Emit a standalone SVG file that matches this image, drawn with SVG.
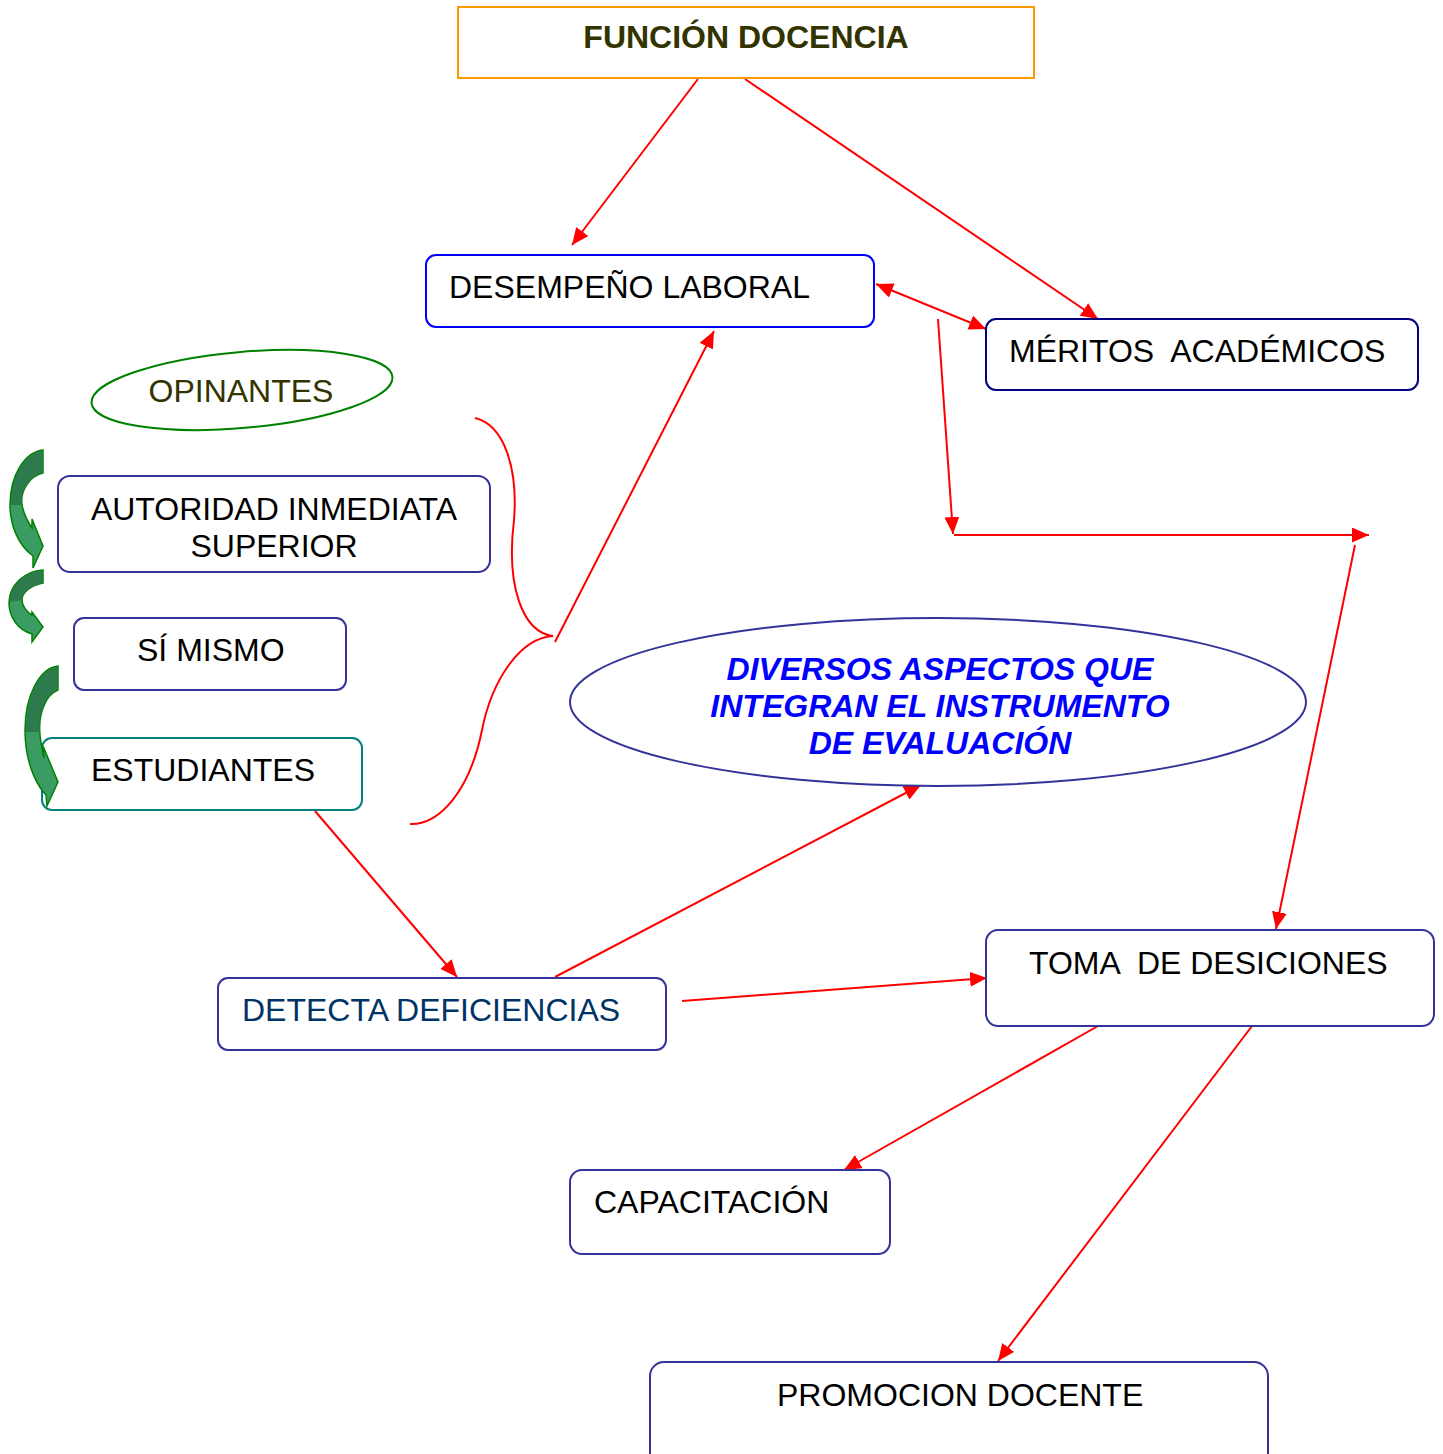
<svg xmlns="http://www.w3.org/2000/svg" width="1443" height="1454" viewBox="0 0 1443 1454">
<style>
  text{font-family:"Liberation Sans",Arial,sans-serif;font-size:32px;fill:#000}
  .box{fill:#fff;stroke:#333399;stroke-width:2}
  .c{fill:none;stroke:#ff0000;stroke-width:2}
  .ga{fill:#3a9c62;stroke:#008000;stroke-width:1.5}
  .gd{fill:#2d7a4c;stroke:none}
</style>
<defs>
  <marker id="ah" markerUnits="userSpaceOnUse" markerWidth="19" markerHeight="15" refX="17" refY="7.5" orient="auto">
    <path d="M0,0 L17,7.5 L0,15 Z" fill="#ff0000"/>
  </marker>
  <marker id="as" markerUnits="userSpaceOnUse" markerWidth="19" markerHeight="15" refX="0" refY="7.5" orient="auto">
    <path d="M17,0 L0,7.5 L17,15 Z" fill="#ff0000"/>
  </marker>
</defs>
<rect width="1443" height="1454" fill="#fff"/>

<g id="connectors">
  <line class="c" x1="698" y1="79" x2="572" y2="245" marker-end="url(#ah)"/>
  <line class="c" x1="745" y1="79" x2="1098" y2="319" marker-end="url(#ah)"/>
  <line class="c" x1="876" y1="284" x2="986" y2="329" marker-start="url(#as)" marker-end="url(#ah)"/>
  <line class="c" x1="938" y1="319" x2="953" y2="534" marker-end="url(#ah)"/>
  <line class="c" x1="954" y1="535" x2="1369" y2="535" marker-end="url(#ah)"/>
  <line class="c" x1="1355" y1="545" x2="1276" y2="929" marker-end="url(#ah)"/>
  <line class="c" x1="555" y1="642" x2="714" y2="331" marker-end="url(#ah)"/>
  <path class="c" d="M475,418 C505,425 518,470 514,520 C506,585 522,632 553,636 C520,638 492,680 482,730 C470,790 440,825 410,824"/>
  <line class="c" x1="315" y1="811" x2="457" y2="977" marker-end="url(#ah)"/>
  <line class="c" x1="555" y1="977" x2="921" y2="785" marker-end="url(#ah)"/>
  <line class="c" x1="682" y1="1001" x2="987" y2="978" marker-end="url(#ah)"/>
  <line class="c" x1="1098" y1="1026" x2="844" y2="1170" marker-end="url(#ah)"/>
  <line class="c" x1="1252" y1="1026" x2="998" y2="1361" marker-end="url(#ah)"/>
</g>

<g id="n-funcion">
  <rect x="458" y="7" width="576" height="71" fill="#fff" stroke="#ff9900" stroke-width="2"/>
  <text x="746" y="48" text-anchor="middle" font-weight="bold" style="fill:#333300">FUNCIÓN DOCENCIA</text>
</g>
<g id="n-desempeno">
  <rect x="426" y="255" width="448" height="72" rx="10" fill="#fff" stroke="#0000ff" stroke-width="2"/>
  <text x="449" y="298">DESEMPEÑO LABORAL</text>
</g>
<g id="n-meritos">
  <rect x="986" y="319" width="432" height="71" rx="10" fill="#fff" stroke="#000080" stroke-width="2"/>
  <text x="1009" y="362" xml:space="preserve">MÉRITOS  ACADÉMICOS</text>
</g>
<g id="n-opinantes">
  <ellipse cx="242" cy="390" rx="151" ry="38" transform="rotate(-5 242 390)" fill="#fff" stroke="#008000" stroke-width="2"/>
  <text x="241" y="402" text-anchor="middle" style="fill:#333300">OPINANTES</text>
</g>
<g id="n-autoridad">
  <rect class="box" x="58" y="476" width="432" height="96" rx="12"/>
  <text x="274" y="520" text-anchor="middle">AUTORIDAD INMEDIATA</text>
  <text x="274" y="557" text-anchor="middle">SUPERIOR</text>
</g>
<g id="n-simismo">
  <rect class="box" x="74" y="618" width="272" height="72" rx="10"/>
  <text x="137" y="661">SÍ MISMO</text>
</g>
<g id="n-estudiantes">
  <rect x="42" y="738" width="320" height="72" rx="10" fill="none" stroke="#008080" stroke-width="2"/>
  <text x="91" y="781">ESTUDIANTES</text>
</g>
<g id="n-diversos">
  <ellipse cx="938" cy="702" rx="368" ry="84" fill="#fff" stroke="#333399" stroke-width="2"/>
  <g font-weight="bold" font-style="italic" text-anchor="middle">
    <text x="940" y="680" style="fill:#0000ff">DIVERSOS ASPECTOS QUE</text>
    <text x="940" y="717" style="fill:#0000ff">INTEGRAN EL INSTRUMENTO</text>
    <text x="940" y="754" style="fill:#0000ff">DE EVALUACIÓN</text>
  </g>
</g>
<g id="n-detecta">
  <rect class="box" x="218" y="978" width="448" height="72" rx="10"/>
  <text x="242" y="1021" style="fill:#003366">DETECTA DEFICIENCIAS</text>
</g>
<g id="n-toma">
  <rect class="box" x="986" y="930" width="448" height="96" rx="12"/>
  <text x="1029" y="974" xml:space="preserve">TOMA  DE DESICIONES</text>
</g>
<g id="n-capacitacion">
  <rect class="box" x="570" y="1170" width="320" height="84" rx="12"/>
  <text x="594" y="1213">CAPACITACIÓN</text>
</g>
<g id="n-promocion">
  <rect class="box" x="650" y="1362" width="618" height="110" rx="14"/>
  <text x="777" y="1406">PROMOCION DOCENTE</text>
</g>

<g id="green-arrows">
  <path class="ga" d="M43,450 L43,473 C30,476 20,490 22,505 C24,515 28,522 32,528 L32,519 L43,546 L33,568 L33,556 C18,545 10,525 10,505 C10,475 25,452 43,450 Z"/>
  <path class="gd" d="M42.5,451 L42.5,473 C30,476 20,490 22,505 L11,505 C11,475 25,453 42.5,451 Z"/>
  <path class="ga" d="M43,570 L43,583 C32,585 22,592 22,600 C22,606 27,612 32,615 L32,612 L43,627 L32,642 L32,634 C18,630 9,617 9,603 C9,585 25,571 43,570 Z"/>
  <path class="gd" d="M42.5,571 L42.5,583 C32,585 22,592 22,600 L10,602 C10,585 25,572 42.5,571 Z"/>
  <path class="ga" d="M58,666 L58,690 C45,695 38,715 40,735 C41,745 43,752 44,758 L43,746 L58,782 L47,806 L46,795 C32,780 25,755 25,730 C25,695 40,668 58,666 Z"/>
  <path class="gd" d="M57.5,667 L57.5,690 C45,695 38,715 40,732 L26,732 C26,695 40,669 57.5,667 Z"/>
</g>
</svg>
